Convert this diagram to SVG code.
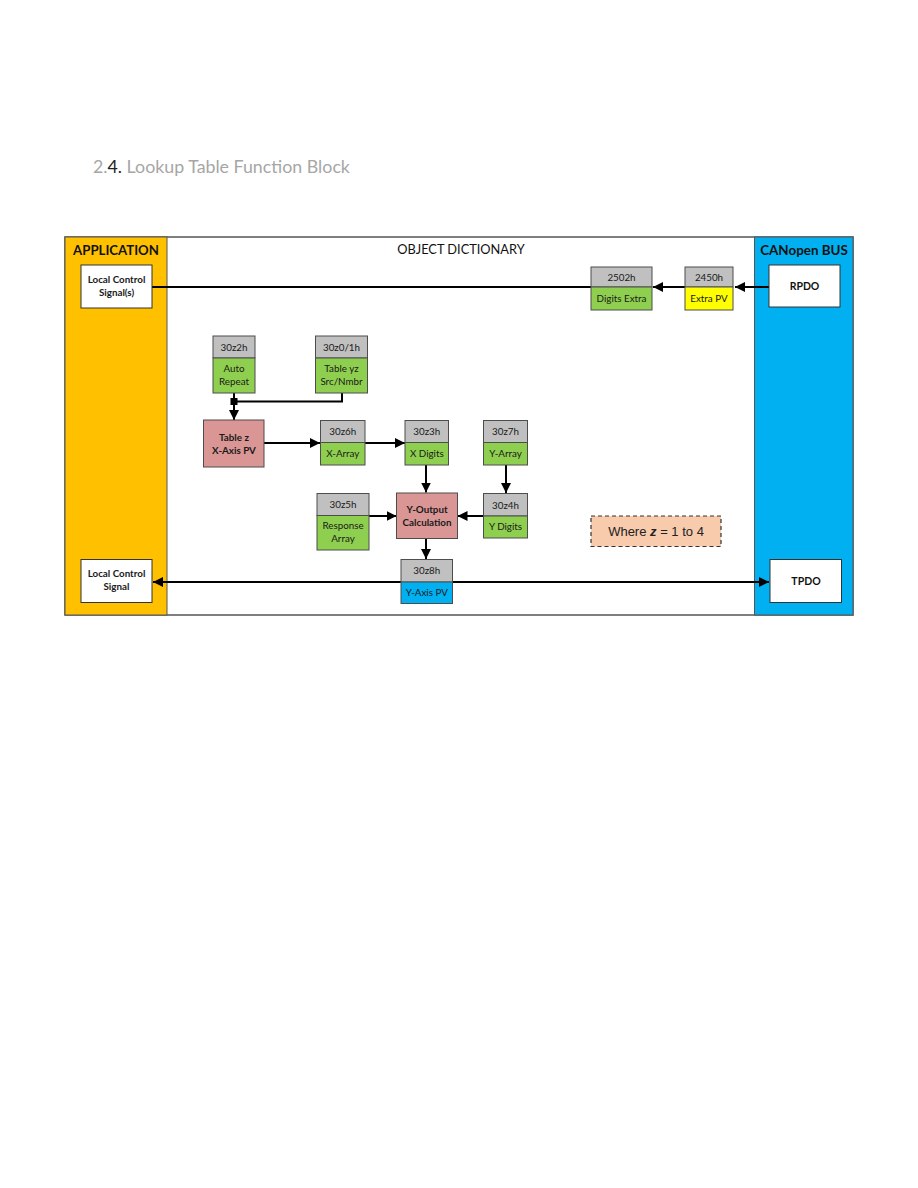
<svg xmlns="http://www.w3.org/2000/svg" width="918" height="1188" viewBox="0 0 918 1188">
<defs>
<marker id="ah" viewBox="0 0 10 10" refX="10" refY="5" markerWidth="10" markerHeight="10" markerUnits="userSpaceOnUse" orient="auto-start-reverse">
<path d="M0,0 L10,5 L0,10 z" fill="#000"/>
</marker>
<style>
.t{font-family:Lato,"Open Sans","Liberation Sans",sans-serif;text-anchor:middle}
.lbl{font-size:9.8px;fill:#1a1a1a}
.b{font-weight:bold}
.box{stroke:#4d4d4d;stroke-width:1}
.gray{fill:#C0C0C0}
.green{fill:#8FCF4F}
.pink{fill:#D99694}
.wht{fill:#fff;stroke:#333;stroke-width:1}
.ln{stroke:#000;stroke-width:2;fill:none}
</style>
</defs>
<rect width="918" height="1188" fill="#fff"/>
<text x="93" y="173" font-family="Lato,'Open Sans','Liberation Sans',sans-serif" font-size="17.8" fill="#A6A6A6">2.<tspan fill="#222">4.</tspan> Lookup Table Function Block</text>

<g id="frame">
<rect x="65" y="237" width="788" height="378" fill="#fff" stroke="#555" stroke-width="1.5"/>
<rect x="65" y="237" width="102" height="378" fill="#FFC000" stroke="#555" stroke-width="1"/>
<rect x="754.5" y="237" width="98.5" height="378" fill="#00B0F0" stroke="#555" stroke-width="1"/>
<text class="t b" x="116" y="255" font-size="13.2" fill="#111">APPLICATION</text>
<text class="t" x="461" y="254" font-size="12.8" fill="#111">OBJECT DICTIONARY</text>
<text class="t b" x="804" y="255" font-size="13.4" fill="#111">CANopen BUS</text>
</g>

<g id="connectors">
<line class="ln" x1="152" y1="287" x2="591" y2="287"/>
<line class="ln" x1="685" y1="287" x2="653" y2="287" marker-end="url(#ah)"/>
<line class="ln" x1="769" y1="287" x2="735" y2="287" marker-end="url(#ah)"/>
<polyline class="ln" points="342,393 342,401.5 234,401.5"/>
<line class="ln" x1="234" y1="393" x2="234" y2="420" marker-end="url(#ah)"/>
<rect x="230.5" y="398" width="7" height="7" fill="#000"/>
<line class="ln" x1="264" y1="443" x2="320" y2="443" marker-end="url(#ah)"/>
<line class="ln" x1="365" y1="443" x2="405" y2="443" marker-end="url(#ah)"/>
<line class="ln" x1="426" y1="465" x2="426" y2="492.5" marker-end="url(#ah)"/>
<line class="ln" x1="506" y1="465" x2="506" y2="493" marker-end="url(#ah)"/>
<line class="ln" x1="369" y1="516" x2="396.5" y2="516" marker-end="url(#ah)"/>
<line class="ln" x1="483" y1="516" x2="457.5" y2="516" marker-end="url(#ah)"/>
<line class="ln" x1="426" y1="538.5" x2="426" y2="559" marker-end="url(#ah)"/>
<line class="ln" x1="153" y1="582" x2="769" y2="582" marker-start="url(#ah)" marker-end="url(#ah)"/>
</g>

<g id="local-control-signals">
<rect class="wht" x="81" y="265" width="71" height="43"/>
<text class="t b lbl" x="116.5" y="283">Local Control</text>
<text class="t b lbl" x="116.5" y="296">Signal(s)</text>
</g>
<g id="local-control-signal">
<rect class="wht" x="81" y="559.5" width="71" height="43"/>
<text class="t b lbl" x="116.5" y="577">Local Control</text>
<text class="t b lbl" x="116.5" y="590">Signal</text>
</g>
<g id="rpdo">
<rect class="wht" x="769" y="265" width="71" height="42"/>
<text class="t b" x="804.5" y="290" font-size="10.5" fill="#111">RPDO</text>
</g>
<g id="tpdo">
<rect class="wht" x="770" y="559.5" width="71.5" height="43"/>
<text class="t b" x="806" y="585" font-size="10.5" fill="#111">TPDO</text>
</g>

<g id="n2502h">
<rect class="box gray" x="591" y="267" width="61" height="20"/>
<rect class="box green" x="591" y="287" width="61" height="23"/>
<text class="t lbl" x="621.5" y="280.5">2502h</text>
<text class="t lbl" x="621.5" y="301.5">Digits Extra</text>
</g>
<g id="n2450h">
<rect class="box gray" x="685" y="267" width="48" height="20"/>
<rect class="box" fill="#FFFF00" x="685" y="287" width="48" height="23"/>
<text class="t lbl" x="709" y="280.5">2450h</text>
<text class="t lbl" x="709" y="301.5">Extra PV</text>
</g>

<g id="n30z2h">
<rect class="box gray" x="213" y="336" width="42" height="22"/>
<rect class="box green" x="213" y="358" width="42" height="35"/>
<text class="t lbl" x="234" y="350.5">30z2h</text>
<text class="t lbl" x="234" y="371.5">Auto</text>
<text class="t lbl" x="234" y="384.5">Repeat</text>
</g>
<g id="n30z0-1h">
<rect class="box gray" x="315.5" y="336" width="52" height="22"/>
<rect class="box green" x="315.5" y="358" width="52" height="35"/>
<text class="t lbl" x="341.5" y="350.5">30z0/1h</text>
<text class="t lbl" x="341.5" y="371.5">Table yz</text>
<text class="t lbl" x="341.5" y="384.5">Src/Nmbr</text>
</g>
<g id="table-z">
<rect class="box pink" x="203.5" y="420" width="60.5" height="47"/>
<text class="t b lbl" x="234" y="440.5">Table z</text>
<text class="t b lbl" x="234" y="453.5">X-Axis PV</text>
</g>
<g id="n30z6h">
<rect class="box gray" x="320.5" y="420.5" width="44.5" height="22"/>
<rect class="box green" x="320.5" y="442.5" width="44.5" height="22.5"/>
<text class="t lbl" x="342.8" y="435">30z6h</text>
<text class="t lbl" x="342.8" y="457">X-Array</text>
</g>
<g id="n30z3h">
<rect class="box gray" x="405" y="420.5" width="43.5" height="22"/>
<rect class="box green" x="405" y="442.5" width="43.5" height="22.5"/>
<text class="t lbl" x="426.8" y="435">30z3h</text>
<text class="t lbl" x="426.8" y="457">X Digits</text>
</g>
<g id="n30z7h">
<rect class="box gray" x="483.5" y="420.5" width="44" height="22"/>
<rect class="box green" x="483.5" y="442.5" width="44" height="22.5"/>
<text class="t lbl" x="505.5" y="435">30z7h</text>
<text class="t lbl" x="505.5" y="457">Y-Array</text>
</g>
<g id="y-output">
<rect class="box pink" x="396.5" y="493" width="61" height="45.5"/>
<text class="t b lbl" x="427" y="513">Y-Output</text>
<text class="t b lbl" x="427" y="525.5">Calculation</text>
</g>
<g id="n30z5h">
<rect class="box gray" x="317" y="493.5" width="52" height="22"/>
<rect class="box green" x="317" y="515.5" width="52" height="34.5"/>
<text class="t lbl" x="343" y="508">30z5h</text>
<text class="t lbl" x="343" y="529">Response</text>
<text class="t lbl" x="343" y="542">Array</text>
</g>
<g id="n30z4h">
<rect class="box gray" x="483.5" y="493.5" width="44" height="22.5"/>
<rect class="box green" x="483.5" y="516" width="44" height="22"/>
<text class="t lbl" x="505.5" y="508.5">30z4h</text>
<text class="t lbl" x="505.5" y="530">Y Digits</text>
</g>
<g id="n30z8h">
<rect class="box gray" x="401" y="559.5" width="51.5" height="22.5"/>
<rect class="box" fill="#00B0F0" x="401" y="582" width="51.5" height="21.5"/>
<text class="t lbl" x="426.8" y="574">30z8h</text>
<text class="t lbl" x="426.8" y="596">Y-Axis PV</text>
</g>
<g id="where-z">
<rect x="591" y="516" width="130" height="30.5" fill="#F8CBAD" stroke="#333" stroke-width="1.2" stroke-dasharray="4,3"/>
<text x="656" y="535.5" font-family="'Liberation Sans',Arial,sans-serif" font-size="13" text-anchor="middle" fill="#222">Where <tspan font-weight="bold" font-style="italic">z</tspan> = 1 to 4</text>
</g>
</svg>
